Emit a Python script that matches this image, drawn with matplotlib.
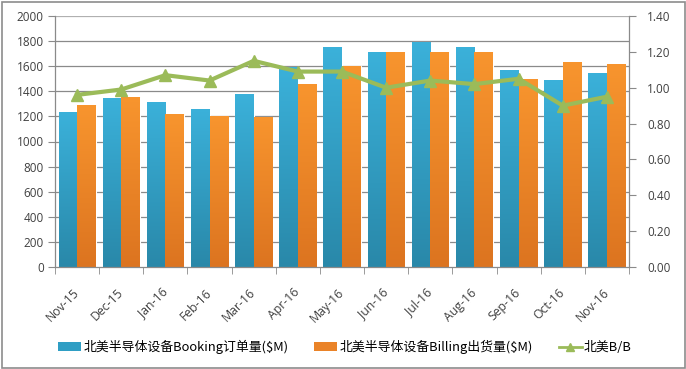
import matplotlib
matplotlib.use("Agg")
import matplotlib.pyplot as plt
import numpy as np
from matplotlib.patches import Rectangle, Patch
from matplotlib.lines import Line2D
from matplotlib.colors import LinearSegmentedColormap

plt.rcParams['font.family'] = ['Noto Sans CJK SC', 'DejaVu Sans']

months = ["Nov-15", "Dec-15", "Jan-16", "Feb-16", "Mar-16", "Apr-16", "May-16",
          "Jun-16", "Jul-16", "Aug-16", "Sep-16", "Oct-16", "Nov-16"]
booking = [1233, 1349, 1315, 1261, 1378, 1591, 1750, 1714, 1793, 1753, 1570, 1490, 1546]
billing = [1288, 1355, 1219, 1203, 1198, 1458, 1604, 1714, 1714, 1714, 1501, 1633, 1618]
bb_ratio = [0.96, 0.99, 1.07, 1.04, 1.15, 1.09, 1.09, 1.00, 1.04, 1.02, 1.05, 0.90, 0.95]

left_ticks = list(range(0, 2001, 200))
right_ticks = [0.0, 0.2, 0.4, 0.6, 0.8, 1.0, 1.2, 1.4]

label_booking = "北美半导体设备Booking订单量($M)"
label_billing = "北美半导体设备Billing出货量($M)"
label_bb = "北美B/B"

blue_top, blue_bot = "#3bb1da", "#2988a9"
orange_top, orange_bot = "#f8952e", "#dc7420"
green = "#9bbb59"
grid_c = "#8a8a8a"
text_c = "#404040"

W, H = 686, 369
fig = plt.figure(figsize=(W / 100, H / 100), dpi=100)
ax = fig.add_axes([55 / W, 1 - 267 / H, (629 - 55) / W, (267 - 16) / H])

x = np.arange(len(months))
bw = 0.42
bars1 = ax.bar(x - bw / 2, booking, width=bw, color=blue_top, edgecolor='white',
               lw=0.8, zorder=2, label=label_booking)
bars2 = ax.bar(x + bw / 2, billing, width=bw, color=orange_top, edgecolor='white',
               lw=0.8, zorder=2, label=label_billing)

grad = np.linspace(1, 0, 256).reshape(-1, 1)
for bars, ctop, cbot in [(bars1, blue_top, blue_bot), (bars2, orange_top, orange_bot)]:
    cmap = LinearSegmentedColormap.from_list("g", [cbot, ctop])
    for b in bars:
        bx, by = b.get_x(), b.get_y()
        bwid, bh = b.get_width(), b.get_height()
        im = ax.imshow(grad, extent=(bx, bx + bwid, 0, 2000), aspect='auto', cmap=cmap,
                       vmin=0, vmax=1, zorder=2.1, origin='upper')
        im.set_clip_path(b)
        im.set_extent((bx, bx + bwid, 0, bh))

ax.set_xlim(-0.5, len(months) - 0.5)
ax.set_ylim(0, 2000)
ax.set_yticks(left_ticks)
ax.set_yticklabels([str(v) for v in left_ticks], fontsize=8.5, color=text_c,
                   family=['Open Sans', 'DejaVu Sans'])
for v in left_ticks[1:]:
    ax.axhline(v, color=grid_c if v < 2000 else "#b0b0b0", lw=0.9, zorder=1)

ax.set_xticks(x)
ax.set_xticklabels(months, rotation=45, ha='right', va='center', rotation_mode='anchor',
                   fontsize=8.8, color=text_c, family=['Open Sans', 'DejaVu Sans'])
ax.tick_params(axis='x', length=0, pad=17)
ax.set_xticks(np.arange(-0.5, len(months), 1), minor=True)
ax.tick_params(axis='x', which='minor', length=5, color=grid_c, direction='out')
ax.tick_params(axis='y', length=5, color=grid_c, direction='out', pad=3)

for s in ['top', 'right']:
    ax.spines[s].set_visible(False)
for s in ['left', 'bottom']:
    ax.spines[s].set_color(grid_c)
    ax.spines[s].set_linewidth(0.9)
    ax.spines[s].set_zorder(3)

ax2 = ax.twinx()
ax2.plot(x, bb_ratio, color=green, lw=3, marker='^', markersize=8, zorder=3, label=label_bb)
ax2.set_ylim(0, 1.4)
ax2.set_yticks(right_ticks)
ax2.set_yticklabels([f"{v:.2f}" for v in right_ticks], fontsize=8.5, color=text_c,
                    family=['Open Sans', 'DejaVu Sans'])
ax2.tick_params(axis='y', length=5, color=grid_c, direction='out', pad=8)
for s in ['top', 'left', 'bottom']:
    ax2.spines[s].set_visible(False)
ax2.spines['right'].set_color(grid_c)
ax2.spines['right'].set_linewidth(0.9)

handles = [Patch(facecolor="#2f9ec4"), Patch(facecolor="#ea8328"),
           Line2D([0], [0], color=green, lw=2, marker='^', markersize=6)]
fig.legend(handles, [label_booking, label_billing, label_bb], loc='center left',
           bbox_to_anchor=(58 / W, 1 - 347 / H), ncol=3, frameon=False, fontsize=9.3,
           handlelength=1.8, handleheight=0.6, handletextpad=0.15, columnspacing=2.0,
           borderaxespad=0, borderpad=0)

fig.patches.append(Rectangle((1.5 / W, 1.5 / H), 1 - 3 / W, 1 - 3 / H, transform=fig.transFigure,
                             fill=False, edgecolor="#8c8c8c", lw=1.2))

fig.savefig("out.png", dpi=100)
